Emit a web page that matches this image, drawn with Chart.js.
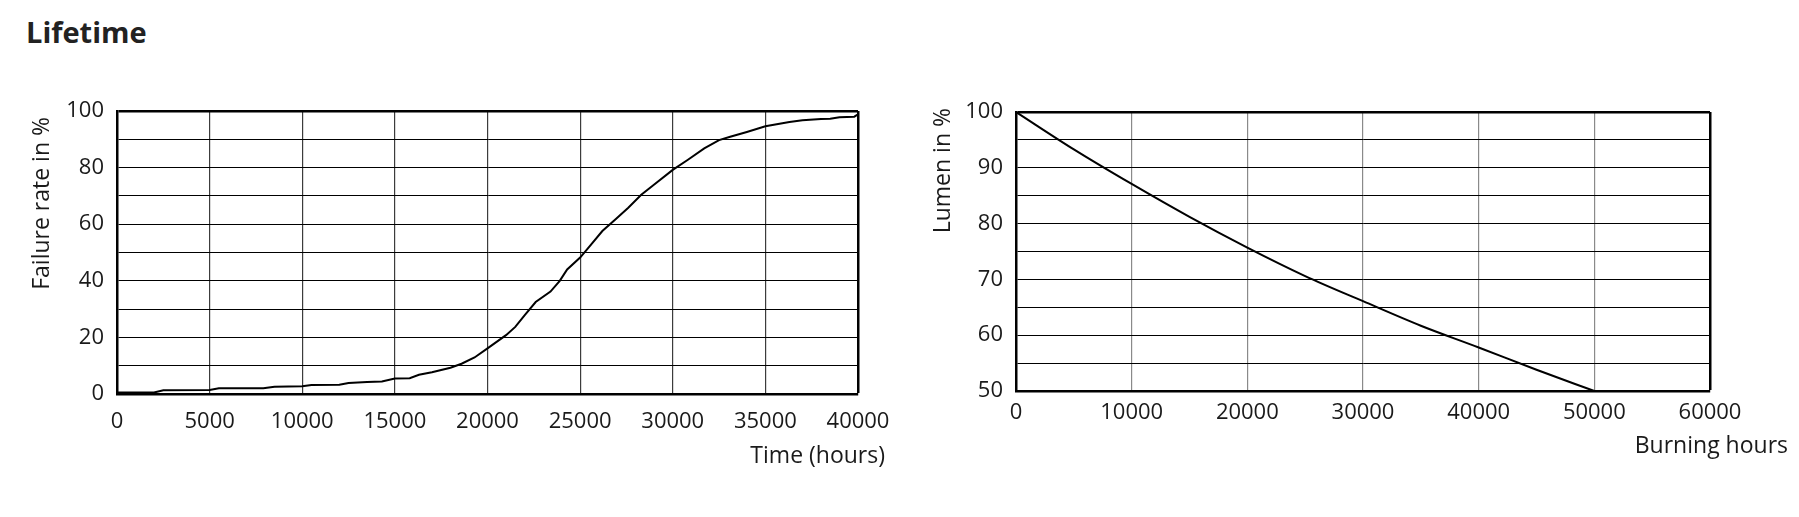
<!DOCTYPE html>
<html>
<head>
<meta charset="utf-8">
<script src="https://cdn.jsdelivr.net/npm/chart.js@4.4.1/dist/chart.umd.min.js"></script>
<style>
  html, body { margin: 0; padding: 0; background: #fff; }
  body { width: 1799px; height: 517px; position: relative; overflow: hidden; font-family: "Open Sans", sans-serif; }
  h1 { position: absolute; left: 26px; top: 12px; margin: 0; font-size: 29px; font-weight: 700; color: #222; line-height: normal; }
  canvas { position: absolute; top: 0; }
  #failure { left: 0; }
  #lumen { left: 900px; }
</style>
</head>
<body>
<h1>Lifetime</h1>
<canvas id="failure" width="920" height="517"></canvas>
<canvas id="lumen" width="899" height="517"></canvas>
<script>
// --- data ---
// failure rate curve (left)
const failureHours = [0, 2000, 2500, 5000, 5500, 7900, 8500, 10000, 10500, 12000,
    12500, 13500, 14300, 15000, 15800, 16300, 17000, 18000, 18600, 19300,
    20000, 21000, 21500, 22000, 22600, 23400, 23900, 24300, 25000, 25600,
    26200, 26900, 27600, 28300, 29000, 30000, 30800, 31700, 32500, 33100,
    34000, 35000, 36300, 37000, 38000, 38500, 39000, 39800, 40000];
const failureRate = [0.5, 0.5, 1.3, 1.4, 2, 2, 2.6, 2.7, 3.2, 3.3,
    3.9, 4.2, 4.4, 5.5, 5.6, 6.8, 7.7, 9.3, 10.7, 12.9,
    16.1, 20.8, 23.7, 27.8, 32.5, 36.2, 40, 44, 48.2, 52.9,
    57.6, 61.7, 65.8, 70.4, 74, 79.2, 82.7, 86.8, 89.7, 90.9,
    92.6, 94.6, 96.1, 96.7, 97.2, 97.3, 97.8, 98, 98.8];

// lumen maintenance curve (right)
const lumenHours = [0, 5000, 10000, 15000, 20000, 25000, 30000, 35000, 40000, 45000, 50000];
const lumenPct = [100, 93.3, 87.1, 81.2, 75.7, 70.6, 66.1, 61.7, 57.8, 53.8, 50];

// axis ranges / tick labels
const failureX = { min: 0, max: 40000, step: 5000 };
const failureY = { min: 0, max: 100, step: 10, labelEvery: 20 };
const lumenX = { min: 0, max: 60000, step: 10000 };
const lumenY = { min: 50, max: 100, step: 5, labelEvery: 10 };

Chart.defaults.font.family = '"Open Sans", sans-serif';
Chart.defaults.font.size = 22;
Chart.defaults.color = '#1a1a1a';

const toPoints = (xs, ys) => xs.map((x, i) => ({ x: x, y: ys[i] }));

// axis titles sit partly outside the plot, so draw them ourselves
const axisTitles = {
    id: 'axisTitles',
    afterDraw(chart, args, opts) {
        const ctx = chart.ctx;
        ctx.save();
        ctx.font = '23px "Open Sans", sans-serif';
        ctx.fillStyle = '#1a1a1a';
        ctx.textAlign = 'right';
        ctx.textBaseline = 'alphabetic';
        ctx.fillText(opts.xText, opts.xAt[0], opts.xAt[1]);
        ctx.translate(opts.yAt[0], opts.yAt[1]);
        ctx.rotate(-Math.PI / 2);
        ctx.textBaseline = 'middle';
        ctx.fillText(opts.yText, 0, 0);
        ctx.restore();
    }
};

const makeChart = (id, points, xr, yr, cfg) => {
    return new Chart(document.getElementById(id), {
        type: 'line',
        data: {
            datasets: [{
                data: points,
                borderColor: '#000',
                borderWidth: 2,
                pointRadius: 0,
                tension: cfg.tension,
                cubicInterpolationMode: cfg.tension ? 'monotone' : 'default'
            }]
        },
        options: {
            responsive: false,
            animation: false,
            layout: { padding: cfg.padding },
            plugins: {
                legend: { display: false },
                tooltip: { enabled: false },
                axisTitles: cfg.titles
            },
            scales: {
                x: {
                    type: 'linear',
                    min: xr.min, max: xr.max,
                    afterFit: s => { s.height = 50; },
                    afterBuildTicks: s => {
                        s.ticks = [];
                        for (let v = xr.min; v <= xr.max; v += xr.step) s.ticks.push({ value: v });
                    },
                    ticks: { padding: cfg.xPad, maxRotation: 0, autoSkip: false, callback: v => String(v) },
                    grid: {
                        drawTicks: false,
                        color: c => c.tick && c.tick.value === xr.max ? '#000' : cfg.vGrid,
                        lineWidth: c => c.tick && c.tick.value === xr.max ? 2.5 : 1.2
                    },
                    border: { color: '#000', width: 2.5 }
                },
                y: {
                    min: yr.min, max: yr.max,
                    afterFit: s => { s.width = cfg.yWidth; },
                    ticks: {
                        stepSize: yr.step,
                        padding: 13,
                        autoSkip: false,
                        callback: v => ((v - yr.min) % yr.labelEvery === 0 ? String(v) : '')
                    },
                    grid: {
                        drawTicks: false,
                        color: '#000',
                        lineWidth: c => c.tick && c.tick.value === yr.max ? 2.5 : 1
                    },
                    border: { color: '#000', width: 2.5 }
                }
            }
        },
        plugins: [axisTitles]
    });
};

makeChart('failure', toPoints(failureHours, failureRate), failureX, failureY, {
    tension: 0,
    yWidth: 117,
    xPad: 15,
    vGrid: '#3c3c3c',
    padding: { left: 0, top: 111, right: 62, bottom: 73 },
    titles: { xText: 'Time (hours)', xAt: [885, 463], yText: 'Failure rate in %', yAt: [42, 117] }
});

makeChart('lumen', toPoints(lumenHours, lumenPct), lumenX, lumenY, {
    tension: 0.4,
    yWidth: 116,
    xPad: 9,
    vGrid: '#8a8a8a',
    padding: { left: 0, top: 112, right: 89, bottom: 76 },
    titles: { xText: 'Burning hours', xAt: [888, 453], yText: 'Lumen in %', yAt: [43, 108] }
});
</script>
</body>
</html>
